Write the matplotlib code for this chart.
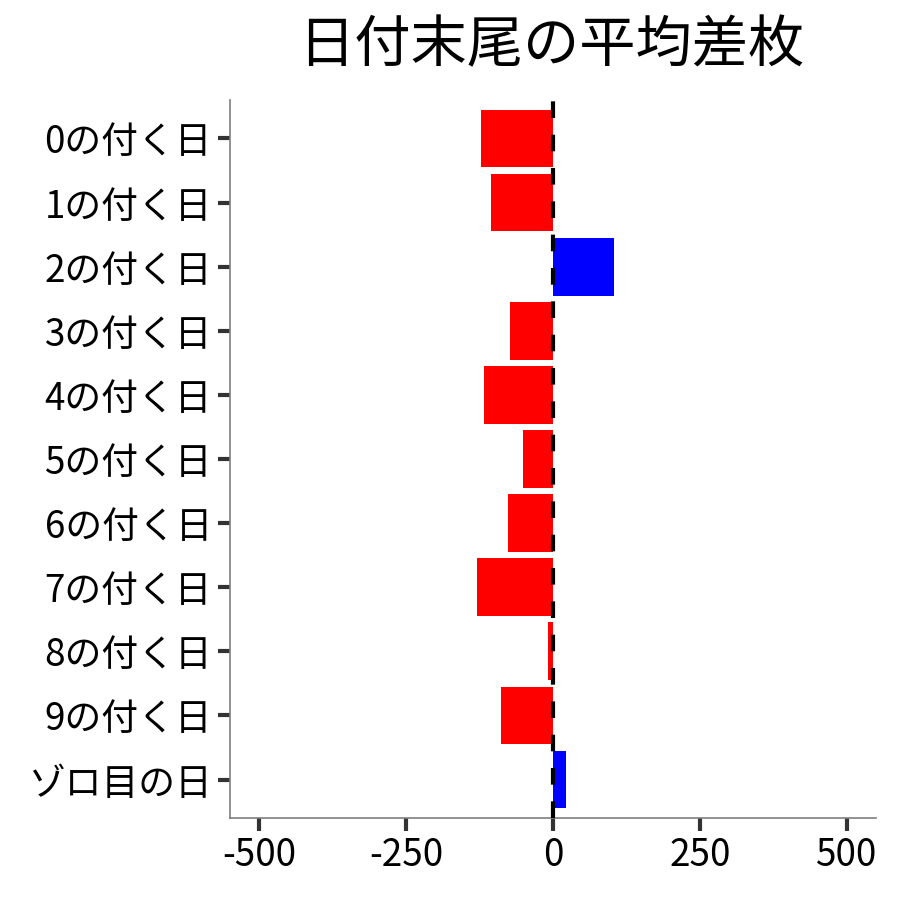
import matplotlib
matplotlib.use("Agg")
import matplotlib.pyplot as plt

plt.rcParams['font.family'] = ['Noto Sans CJK JP', 'DejaVu Sans']
plt.rcParams['axes.unicode_minus'] = False

# categories, top to bottom
labels = ['0の付く日', '1の付く日', '2の付く日', '3の付く日', '4の付く日',
          '5の付く日', '6の付く日', '7の付く日', '8の付く日', '9の付く日', 'ゾロ目の日']
# mean difference in medals
values = [-122, -106, 103, -73, -118, -51, -77, -130, -8, -89, 22]

colors = ['blue' if v > 0 else 'red' for v in values]
ypos = list(range(len(labels)))[::-1]

fig = plt.figure(figsize=(9, 9), dpi=100)
ax = fig.add_axes([0.2556, 0.0911, 0.7178, 0.7978])

ax.barh(ypos, values, height=0.9, color=colors, zorder=2)
ax.axvline(0, color='black', linestyle=(0, (4, 4)), linewidth=3, zorder=3)

ax.set_xlim(-550, 550)
ax.set_ylim(-0.6, len(labels) - 0.4)
ax.set_xticks([-500, -250, 0, 250, 500])
ax.set_yticks(ypos)
ax.set_yticklabels(labels)

for s in ['top', 'right']:
    ax.spines[s].set_visible(False)
for s in ['left', 'bottom']:
    ax.spines[s].set_color('#7f7f7f')
    ax.spines[s].set_linewidth(1.2)
ax.tick_params(axis='both', colors='#333333', length=9, width=3, labelsize=26.5,
               labelcolor='black', pad=4)

fig.text(0.613, 0.948, '日付末尾の平均差枚', ha='center', va='center', fontsize=40.5)

fig.savefig('out.png')
